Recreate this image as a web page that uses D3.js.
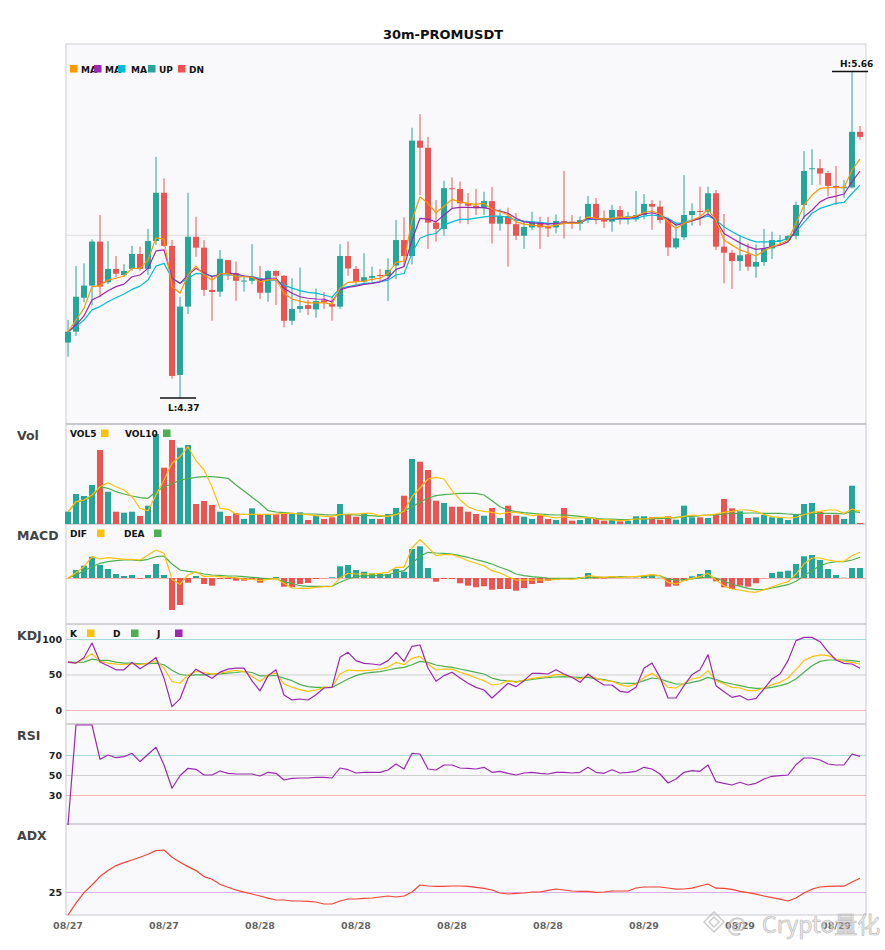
<!DOCTYPE html>
<html>
<head>
<meta charset="utf-8">
<script src="https://cdn.jsdelivr.net/npm/d3@7"></script>
<style>
body{margin:0;background:#fff;font-family:"DejaVu Sans",sans-serif;}
</style>
</head>
<body>
<svg id="chart" width="885" height="950"></svg>
<script>
// candles, 30m PROMUSDT
var openP = [4.589,4.632,4.766,4.814,4.988,4.827,4.880,4.856,4.880,4.939,
4.880,4.990,5.181,4.971,4.461,4.731,5.007,4.964,4.797,4.790,
4.915,4.863,4.830,4.833,4.843,4.786,4.872,4.853,4.675,4.722,
4.737,4.720,4.756,4.741,4.731,4.931,4.880,4.830,4.845,4.856,
4.852,4.893,4.994,4.931,5.387,5.359,5.063,5.038,5.199,5.196,
5.138,5.130,5.120,5.148,5.059,5.089,5.057,5.011,5.044,5.063,
5.046,5.044,5.069,5.067,5.059,5.073,5.137,5.081,5.067,5.113,
5.086,5.076,5.093,5.137,5.126,5.076,4.965,5.005,5.093,5.109,
5.105,5.179,4.968,4.944,4.911,4.938,4.889,4.907,4.961,4.990,
4.994,5.010,5.133,5.274,5.278,5.259,5.208,5.199,5.202,5.422];
var highP = [4.678,4.892,4.902,4.997,5.093,4.990,4.931,4.899,4.971,4.968,
5.038,5.323,5.238,4.994,4.770,5.181,5.086,4.994,4.849,4.955,
4.915,4.909,4.852,4.978,4.892,4.875,4.874,4.856,4.843,4.885,
4.757,4.803,4.788,4.770,4.978,4.988,4.892,4.942,4.889,4.880,
4.922,5.073,5.084,5.438,5.492,5.402,5.152,5.229,5.242,5.225,
5.180,5.196,5.185,5.204,5.116,5.122,5.101,5.069,5.106,5.086,
5.086,5.095,5.267,5.093,5.088,5.168,5.160,5.111,5.133,5.129,
5.106,5.188,5.176,5.152,5.150,5.078,5.063,5.251,5.139,5.205,
5.205,5.192,5.097,4.955,5.014,4.981,4.977,5.038,5.027,5.014,
5.014,5.146,5.346,5.353,5.314,5.267,5.287,5.231,5.660,5.445];
var lowP = [4.533,4.615,4.748,4.735,4.770,4.820,4.847,4.849,4.873,4.873,
4.856,4.975,4.968,4.446,4.370,4.702,4.928,4.773,4.675,4.770,
4.836,4.754,4.790,4.820,4.761,4.750,4.737,4.649,4.658,4.707,
4.698,4.687,4.722,4.675,4.722,4.853,4.816,4.826,4.830,4.830,
4.753,4.840,4.889,4.898,5.172,4.959,4.988,5.011,5.120,5.060,
5.057,5.093,5.093,4.980,5.031,4.889,4.994,4.959,5.034,4.959,
5.006,5.021,5.000,5.038,5.032,5.060,5.057,5.042,5.027,5.056,
5.056,5.067,5.076,5.034,5.060,4.931,4.958,4.994,5.051,5.051,
5.086,4.955,4.823,4.801,4.872,4.873,4.845,4.892,4.919,4.977,
4.988,4.997,5.077,5.212,5.212,5.168,5.133,5.160,5.198,5.391];
var closeP = [4.632,4.770,4.814,4.988,4.810,4.880,4.861,4.872,4.939,4.880,
4.990,5.181,4.971,4.457,4.731,5.007,4.964,4.797,4.789,4.920,
4.863,4.833,4.834,4.849,4.786,4.872,4.853,4.675,4.722,4.733,
4.722,4.753,4.748,4.731,4.931,4.882,4.830,4.847,4.852,4.852,
4.876,4.994,4.931,5.387,5.359,5.063,5.038,5.199,5.196,5.139,
5.130,5.120,5.148,5.059,5.089,5.057,5.011,5.046,5.067,5.044,
5.040,5.069,5.065,5.063,5.073,5.137,5.076,5.067,5.113,5.086,
5.088,5.093,5.137,5.126,5.073,4.965,5.001,5.093,5.109,5.105,
5.179,4.968,4.944,4.911,4.934,4.889,4.907,4.961,4.994,4.994,
5.010,5.133,5.267,5.278,5.257,5.208,5.200,5.205,5.422,5.402];

var ma5 = [4.632,4.678,4.724,4.810,4.814,4.836,4.843,4.852,4.882,4.882,
4.915,5.003,4.998,4.810,4.784,4.856,4.891,4.856,4.836,4.860,
4.862,4.849,4.849,4.847,4.829,4.836,4.840,4.784,4.761,4.753,
4.746,4.746,4.746,4.741,4.804,4.827,4.829,4.832,4.839,4.843,
4.862,4.906,4.911,5.073,5.165,5.139,5.102,5.128,5.155,5.145,
5.139,5.135,5.139,5.116,5.106,5.093,5.066,5.057,5.053,5.049,
5.047,5.053,5.060,5.060,5.062,5.086,5.080,5.077,5.080,5.084,
5.084,5.089,5.103,5.109,5.096,5.066,5.040,5.060,5.073,5.086,
5.115,5.073,4.994,4.974,4.955,4.944,4.931,4.952,4.968,4.978,
4.994,5.060,5.132,5.172,5.198,5.201,5.201,5.201,5.271,5.314];
var ma10 = [4.632,4.658,4.694,4.757,4.773,4.794,4.810,4.820,4.849,4.856,
4.882,4.951,4.955,4.843,4.823,4.856,4.882,4.865,4.849,4.860,
4.862,4.861,4.852,4.849,4.836,4.843,4.843,4.804,4.784,4.770,
4.764,4.761,4.760,4.750,4.797,4.807,4.812,4.819,4.823,4.829,
4.843,4.878,4.889,4.994,5.080,5.077,5.066,5.093,5.119,5.123,
5.123,5.122,5.122,5.115,5.109,5.100,5.080,5.066,5.062,5.060,
5.057,5.060,5.062,5.062,5.064,5.080,5.077,5.076,5.078,5.080,
5.080,5.086,5.097,5.102,5.093,5.076,5.053,5.060,5.070,5.080,
5.097,5.073,5.020,5.001,4.983,4.968,4.957,4.961,4.968,4.974,
4.987,5.033,5.086,5.112,5.145,5.161,5.168,5.176,5.224,5.267];
var ma20 = [4.632,4.652,4.678,4.718,4.731,4.750,4.766,4.781,4.799,4.812,
4.836,4.891,4.902,4.843,4.823,4.843,4.862,4.860,4.852,4.856,
4.856,4.853,4.852,4.849,4.843,4.836,4.836,4.816,4.804,4.794,
4.787,4.784,4.777,4.768,4.804,4.810,4.816,4.823,4.825,4.829,
4.836,4.856,4.862,4.942,5.001,5.014,5.020,5.053,5.066,5.076,
5.076,5.081,5.086,5.089,5.089,5.084,5.073,5.069,5.066,5.064,
5.060,5.060,5.060,5.060,5.062,5.076,5.076,5.076,5.076,5.077,
5.077,5.080,5.089,5.093,5.089,5.080,5.060,5.062,5.073,5.080,
5.089,5.073,5.047,5.027,5.010,4.997,4.987,4.987,4.987,4.990,
5.001,5.027,5.064,5.100,5.119,5.129,5.139,5.143,5.178,5.211];

// volume in thousands
var volume = [123,300,280,390,740,323,123,113,123,80,
183,900,563,840,763,790,200,230,190,123,
80,107,50,157,97,97,97,113,107,117,
40,83,50,67,200,93,73,100,50,50,
100,160,283,650,623,540,233,210,173,173,
123,100,83,160,60,183,83,73,50,90,
50,40,160,33,40,67,57,33,43,27,
33,77,77,67,43,77,43,183,67,67,
60,100,250,157,127,60,67,90,67,60,
40,93,200,210,123,90,93,50,383,10];
var vol5 = [123,223,240,290,373,413,373,340,273,157,
133,290,440,607,673,773,633,540,373,157,
147,100,97,97,97,97,100,107,107,100,
93,83,77,77,93,100,100,107,107,83,
77,93,127,273,360,450,467,450,333,243,
173,140,127,117,100,117,117,100,83,93,
73,60,73,60,60,67,50,43,40,33,
40,50,50,60,67,67,60,77,90,83,
90,100,117,127,140,140,127,93,73,67,
60,67,93,117,127,140,140,107,150,127];
var vol10 = [123,213,240,267,373,357,323,300,280,263,
257,323,373,400,440,453,467,473,473,467,
457,390,330,267,207,133,120,113,107,100,
100,100,93,90,93,93,90,83,83,77,
83,100,127,173,217,260,283,293,300,307,
307,307,290,233,173,140,123,113,107,100,
93,90,90,83,77,67,57,50,50,43,
43,50,50,50,57,57,67,73,77,83,
90,90,100,107,107,110,110,107,107,107,
100,93,100,107,107,107,107,100,127,117];

// MACD values in 1e-3 price units
var dif = [0,5.3,11.3,21.3,19,20.3,19.7,18.7,18.7,18,
23,28,24.7,-1.3,-6.3,3,6.3,1.3,2,1.3,
0.7,0.3,-1.3,-1.3,-2.7,-1.3,-0.7,-5.3,-10,-10.3,
-10.3,-9.3,-8.7,-8.3,0,4.7,4,4,4,4.7,
5.7,10.7,10.7,30,38.3,30.7,22.3,23.3,23.3,20.7,
17.3,14.7,12.3,7.3,5,1.3,-2,-2,-2,-2,
-2,-1.3,-1,-1.3,-0.3,2.3,1.3,0.7,1.3,0.7,
1.3,1.3,2.3,3.3,2.3,-4.3,-6,-2.7,-0.3,1.3,
4.7,-2,-7.7,-11,-12,-13.7,-14.3,-11.7,-8.7,-6,
-3.7,4,14,20,20,18,16.7,16.7,22.3,25.7];
var dea = [0,3,7.3,11.3,14.7,16.3,17.3,18,18,17.3,
18.7,21.3,22,14,8,6.7,5.7,4,3,2.7,
2,2,1.3,0.7,0,-0.7,-1,-3.7,-5.3,-7.7,
-8.3,-8.3,-8.3,-8.3,-4.3,-1,1.3,2.3,2.3,2.3,
3.3,5.7,7.3,14.7,21.7,25.7,25,24.7,24,22.3,
20.7,18.3,16.3,14,10.7,8,4,2.3,1.3,0.7,
0,-0.3,-0.3,-0.3,-0.3,0,0.7,0.7,0.7,1.3,
1.3,1.3,1.7,2.3,2.3,-1,-2,-1.7,-1,0,
1.3,0,-3.3,-6,-8.3,-10.3,-11.7,-11.7,-10,-8.3,
-6.7,-3.3,2.3,7.3,12.3,15,16.3,16.3,18,20.7];
var macdHist = [0,8,12.3,21.3,13,9,4,2,3,-0.7,
3,14,3,-32,-27,-4.7,2,-6,-7.7,-1,
-1,-2.7,-2.7,-1.3,-4.7,-1.3,1,-8.7,-9.3,-6,
-5,-1,-0.3,0.7,11.7,13,8,6.3,4.7,4,
4,9,6.3,29,31.7,10,-3.7,-1,-1,-5.3,
-7.7,-9.3,-8.3,-11.7,-11,-11,-12.7,-10,-6,-5,
-2.7,-2,-0.5,-0.5,0.7,5,-0.5,-0.5,1.3,0.3,
0.3,0.3,2.3,3.3,0.3,-8.7,-7.7,-2.7,1.7,4,
8,-3.3,-9.3,-11,-7.7,-8.7,-5.3,-0.3,5,6.3,
7.3,14,21.7,23,18,9,3,0.3,10,10];

var kVals = [67.5,66,72.2,79.2,68.4,66,64.6,63.7,65.1,63.7,
66,69.3,59,40.1,37.7,49.5,54.2,52.8,50.5,51.9,
54.2,55.7,54.2,47.2,40.1,49.5,51.9,36.8,32,28.6,
26.3,28.2,31.9,31.9,50.7,56.3,55.4,55.4,56.3,57.7,
60.1,67.1,63.8,72.8,75.6,64.8,56.3,57.7,57.7,53.1,
49.8,45.1,41.3,35.2,36.6,41.3,39,42.3,44.6,46,
46.9,49.8,49.8,46,43.7,48.4,45.1,41.3,40.4,35.7,
33.3,36.6,46,51.6,43.7,31.9,31,37.6,43.7,46,
55.4,41.3,36.6,31.9,31,27.2,27.2,31,35.7,39,
45.1,56.8,69.5,75.1,77.5,76.5,71.8,68.5,67.1,64.8];
var dVals = [67.5,67,67.5,71.7,69.8,69.8,67.5,66,66,65.1,
65.1,66,63.7,56,50,48.6,49.5,49.5,50.5,50.9,
51.9,52.8,54.2,52.8,48.1,48.1,48.6,44.8,41.3,35.7,
32.9,31.9,31.9,31.9,37.6,43.7,48.4,51.6,53.1,54,
56.3,58.7,60.1,63.8,68.5,67.1,63.4,61.5,60.1,57.7,
55.4,53.1,50.7,45,42,41,40,41.3,43,44.6,
46,46.5,47,46.5,46,46,43.7,42.7,40.4,38,
37.6,37.6,41.3,45.1,43.7,39.9,36.6,36.6,39,41.3,
46,42.7,39,36.6,34.3,31.9,30.5,30.5,31.9,34.3,
37.6,43.7,53.1,62.4,68.5,70.4,70.4,70.4,69.5,68.1];
var jVals = [67.5,66,74,94.3,67.5,62.3,56.6,56.6,67,58,
65.1,74,44.8,4.7,15.6,44.8,57.5,50.9,44.8,53.3,
57.5,59,59,41,26.9,48.1,56.6,21.2,14.2,15.5,
14.1,21.6,31,31.9,74.2,81.2,69.5,65.7,64.8,63.4,
69.5,81.2,68.5,89.7,91.5,59.2,40.4,48.4,53.1,45.1,
37.6,31.9,28.2,16.9,27.2,37.6,32.9,41.3,51.6,51.6,
50.7,56.8,50.7,46,39,50.7,42.3,35.2,35.2,26.3,
24.9,31.9,58.7,66.2,46,16.9,16.9,34.3,49.8,56.8,
77.9,34.3,25.8,17.8,20.2,14.1,16.4,29.6,43.7,50.7,
69.5,97.7,102.3,102.3,96.2,82.2,70.4,65.7,64.8,58.7];

var rsiVals = [0,100,100,100,65.7,70,67.3,68.3,71.7,63.3,
70.7,77.7,60,36.7,49.3,56.7,55.7,50,50,54,
51.7,51,51,51,49,52.7,51.7,45,46.7,47,
47,47.7,47.7,47,57,55.3,52,52.7,52.7,52.7,
55,61,56,71.7,71,56,55,60,60,57,
56.7,56,57.7,52.7,53.7,51.7,50,52,52.7,51.7,
51,52.7,52.7,52,52.7,57.7,52.7,51.7,55.3,52,
52.7,53.7,57.7,56,51,42,46,52.7,54.3,53.7,
60,43.3,41.7,40,42.7,40,41.7,46,48.7,49.3,
50,60.3,67,67,65,61,60,60,71,68.7];

var adxVals = [13.5,19.4,24.7,28.5,32.7,35.7,38.2,39.7,41,42.4,
43.9,45.7,46,42.4,39.9,37.7,35.7,32.7,31.4,28.9,
27.4,26,24.9,24,23,21.9,21,21,20.5,20.5,
20.3,20,19,19,20.5,21.5,21.5,21.8,22,22.5,
23,22.5,23,25,28.5,28,27.8,27.8,28,28,
27.8,27.3,26.8,26,24.5,24,24.3,24.5,25,25,
25.8,26.5,26,25.5,25.3,25.3,24.8,25,25.5,25.5,
25.5,27,27.5,27.5,27.5,27,26.4,26.5,26.9,28,
29,26.9,26.8,26.3,25.3,24.7,23.9,23,22.2,21.4,
20.5,22,24.5,26.4,27.5,27.8,27.9,27.9,30,31.9];

var tickIndex = [0,12,24,36,48,60,72,84,96];
var tickLabels = ["08/27","08/27","08/28","08/28","08/28","08/28","08/29","08/29","08/29"];
var priceGrid = [5.015];
var kdjTicks = [0,50,100];
var rsiTicks = [30,50,70];
var adxTicks = [25];

var UP = "#26a69a", DN = "#ef5350";
var svg = d3.select("#chart");
var L = 66, R = 866;

var idx = d3.range(closeP.length);
var x = d3.scaleBand().domain(idx).range([64, 864]).padding(0);
function cx(i){ return x(i) + x.bandwidth()/2; }
var isUp = function(i){ return closeP[i] >= openP[i]; };

var panels = [
  {name:"", top:44},
  {name:"Vol", top:424},
  {name:"MACD", top:524},
  {name:"KDJ", top:624},
  {name:"RSI", top:724},
  {name:"ADX", top:824}
];

svg.append("rect").attr("x", L).attr("y", 44).attr("width", R-L).attr("height", 915-44)
   .attr("fill", "#f9f9fb");

// title
svg.append("text").attr("x", 443).attr("y", 39).attr("text-anchor","middle")
   .attr("font-weight","bold").attr("font-size",13).attr("fill","#111").text("30m-PROMUSDT");

// scales
var yP = d3.scaleLinear().domain([4.267, 5.769]).range([424, 44]);
var yV = d3.scaleLinear().domain([0, 1000]).range([524, 424]);
var yM = d3.scaleLinear().domain([-46, 54]).range([624, 524]);
var yK = d3.scaleLinear().domain([-19.7, 121.1]).range([724, 624]);
var yR = d3.scaleLinear().domain([0, 100]).range([825, 725]);
var yA = d3.scaleLinear().domain([13.5, 59]).range([915, 824]);

// reference line colours by level
var refColor = {0:"#f4b4b4", 30:"#f4b4b4", 50:"#cfcfcf", 70:"#a6dada", 100:"#a6dada", 25:"#deaee8"};

function refAxis(scale, ticks, labels){
  var g = svg.append("g").attr("transform","translate(" + L + ",0)")
    .call(d3.axisLeft(scale).tickValues(ticks).tickSize(-(R-L)).tickPadding(4)
      .tickFormat(labels ? d3.format("d") : ""));
  g.select(".domain").remove();
  g.selectAll(".tick line").attr("stroke", function(d){ return refColor[d] || "#dcdcdc"; }).attr("stroke-width",1);
  g.selectAll(".tick text").attr("font-size",9.5).attr("font-weight","bold").attr("fill","#222")
    .attr("font-family","DejaVu Sans");
  return g;
}
refAxis(yP, priceGrid, false);
refAxis(yM, [0], false);
refAxis(yK, kdjTicks, true);
refAxis(yR, rsiTicks, true);
refAxis(yA, adxTicks, true);

// borders
svg.append("rect").attr("x", L).attr("y", 44).attr("width", R-L).attr("height", 380)
   .attr("fill","none").attr("stroke","#cfcfd6");
[424,524,624,724,824].forEach(function(yy){
  svg.append("line").attr("x1",L).attr("x2",R).attr("y1",yy).attr("y2",yy)
     .attr("stroke","#aaaab2").attr("stroke-width",1.2);
});
svg.append("line").attr("x1",L).attr("x2",L).attr("y1",424).attr("y2",915).attr("stroke","#c8c8d0");
svg.append("line").attr("x1",R).attr("x2",R).attr("y1",424).attr("y2",915).attr("stroke","#c8c8d0");
svg.append("line").attr("x1",L).attr("x2",R).attr("y1",915).attr("y2",915).attr("stroke","#c8c8d0");

// panel titles
panels.forEach(function(p){
  if (!p.name) return;
  svg.append("text").attr("x",17).attr("y",p.top+16).attr("font-size",12.5).attr("font-weight","bold")
     .attr("fill","#444").text(p.name);
});

// candles
var cg = svg.append("g");
cg.selectAll("line.wick").data(idx).enter().append("line")
  .attr("x1", cx).attr("x2", cx)
  .attr("y1", function(i){ return yP(highP[i]); })
  .attr("y2", function(i){ return yP(lowP[i]); })
  .attr("stroke", function(i){ return isUp(i) ? UP : DN; }).attr("stroke-width",1);
cg.selectAll("rect.body").data(idx).enter().append("rect")
  .attr("x", function(i){ return cx(i) - 3; })
  .attr("width", 6)
  .attr("y", function(i){ return yP(Math.max(openP[i], closeP[i])); })
  .attr("height", function(i){ return Math.max(1, Math.abs(yP(openP[i]) - yP(closeP[i]))); })
  .attr("fill", function(i){ return isUp(i) ? UP : DN; });

function drawLine(vals, scale, color, w){
  svg.append("path").datum(idx)
    .attr("d", d3.line().x(cx).y(function(i){ return scale(vals[i]); }))
    .attr("fill","none").attr("stroke",color).attr("stroke-width", w || 1.2)
    .attr("stroke-linejoin","round");
}
drawLine(ma20, yP, "#00bcd4");
drawLine(ma10, yP, "#9c27b0");
drawLine(ma5, yP, "#ff9800");

// high / low markers
var hi = d3.maxIndex(highP), lo = d3.minIndex(lowP);
svg.append("line").attr("x1", cx(hi)-20).attr("x2", cx(hi)+16).attr("y1", yP(highP[hi])).attr("y2", yP(highP[hi]))
   .attr("stroke","#111").attr("stroke-width",1.5);
svg.append("text").attr("x", cx(hi)-12).attr("y", yP(highP[hi])-5).attr("font-size",9).attr("font-weight","bold")
   .attr("fill","#111").text("H:" + highP[hi].toFixed(2));
svg.append("line").attr("x1", cx(lo)-20).attr("x2", cx(lo)+16).attr("y1", yP(lowP[lo])).attr("y2", yP(lowP[lo]))
   .attr("stroke","#111").attr("stroke-width",1.5);
svg.append("text").attr("x", cx(lo)-12).attr("y", yP(lowP[lo])+13).attr("font-size",9).attr("font-weight","bold")
   .attr("fill","#111").text("L:" + lowP[lo].toFixed(2));

// volume
svg.append("g").selectAll("rect").data(idx).enter().append("rect")
  .attr("x", function(i){ return cx(i) - 3; }).attr("width", 6)
  .attr("y", function(i){ return yV(volume[i]); })
  .attr("height", function(i){ return yV(0) - yV(volume[i]); })
  .attr("fill", function(i){ return isUp(i) ? UP : DN; });
drawLine(vol10, yV, "#4caf50");
drawLine(vol5, yV, "#ffc107");

// MACD
svg.append("g").selectAll("rect").data(idx).enter().append("rect")
  .attr("x", function(i){ return cx(i) - 3; }).attr("width", 6)
  .attr("y", function(i){ return yM(Math.max(0, macdHist[i])); })
  .attr("height", function(i){ return Math.abs(yM(macdHist[i]) - yM(0)); })
  .attr("fill", function(i){ return macdHist[i] >= 0 ? UP : DN; });
drawLine(dea, yM, "#4caf50");
drawLine(dif, yM, "#ffc107");

// KDJ
drawLine(dVals, yK, "#4caf50");
drawLine(kVals, yK, "#ffc107");
drawLine(jVals, yK, "#9c27b0");

// RSI
drawLine(rsiVals, yR, "#9c27b0");

// ADX
drawLine(adxVals, yA, "#f44336");

// legends
function legend(items, y){
  items.forEach(function(it){
    if (it.box) {
      svg.append("rect").attr("x", it.x).attr("y", y-7.5).attr("width", 7.5).attr("height", 7.5).attr("fill", it.box);
    } else {
      svg.append("text").attr("x", it.x).attr("y", y).attr("font-size", 9).attr("font-weight","bold")
         .attr("fill","#111").text(it.t);
    }
  });
}
legend([{x:70,box:"#ff9800"},{x:81,t:"MA"},{x:94,box:"#9c27b0"},{x:105,t:"MA"},{x:118,box:"#00bcd4"},
        {x:131,t:"MA"},{x:148,box:UP},{x:159,t:"UP"},{x:178,box:DN},{x:189,t:"DN"}], 72.5);
legend([{x:70,t:"VOL5"},{x:101,box:"#ffc107"},{x:125,t:"VOL10"},{x:163,box:"#4caf50"}], 437);
legend([{x:70,t:"DIF"},{x:97,box:"#ffc107"},{x:124,t:"DEA"},{x:154,box:"#4caf50"}], 537);
legend([{x:70,t:"K"},{x:87,box:"#ffc107"},{x:113,t:"D"},{x:131,box:"#4caf50"},{x:157,t:"J"},{x:175,box:"#9c27b0"}], 637);

// x axis
var xa = svg.append("g").attr("transform","translate(0,915)")
  .call(d3.axisBottom(x).tickValues(tickIndex).tickSize(0).tickPadding(7)
    .tickFormat(function(d){ return tickLabels[tickIndex.indexOf(d)]; }));
xa.select(".domain").remove();
xa.selectAll("text").attr("font-size",9.5).attr("font-weight","bold").attr("fill","#666")
  .attr("font-family","DejaVu Sans");

// watermark
var wm = svg.append("g").attr("opacity",0.75);
wm.append("path").attr("d","M714,912 L724,922 L714,932 L704,922 Z M714,917 L719,922 L714,927 L709,922 Z")
  .attr("fill","none").attr("stroke","#b8b8b8").attr("stroke-width",1.4);
wm.append("text").attr("x",727).attr("y",932).attr("font-size",20).attr("fill","#e6e6e6")
  .attr("stroke","#a8a8a8").attr("stroke-width",0.7).attr("font-family","Noto Sans CJK SC").text("@");
wm.append("text").attr("x",762).attr("y",933).attr("font-size",23).attr("fill","#e6e6e6")
  .attr("stroke","#a8a8a8").attr("stroke-width",0.7).attr("font-family","Noto Sans CJK SC").text("Crypto量化");
</script>
</body>
</html>
